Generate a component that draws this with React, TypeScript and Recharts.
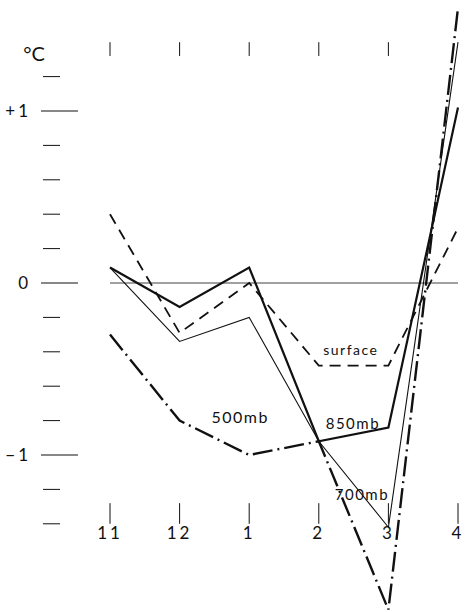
import React from "react";
import {
  LineChart,
  Line,
  XAxis,
  YAxis,
  ReferenceLine,
  ReferenceDot,
} from "recharts";

const months = ["11", "12", "1", "2", "3", "4"];
const surface = [0.4, -0.29, 0.0, -0.48, -0.48, 0.32];
const mb850 = [0.09, -0.14, 0.09, -0.92, -0.84, 1.02];
const mb700 = [0.09, -0.34, -0.2, -0.92, -1.42, 1.4];
const mb500 = [-0.3, -0.8, -1.0, -0.92, -1.9, 1.6];
const yTicks = [1.2, 1, 0.8, 0.6, 0.4, 0.2, 0, -0.2, -0.4, -0.6, -0.8, -1, -1.2, -1.4];
const yLabels: Record<string, string> = { "1": "+1", "0": "0", "-1": "−1" };
const topMarks = [0, 1, 2, 3, 4];

const data = months.map((m, i) => ({
  i,
  m,
  surface: surface[i],
  mb850: mb850[i],
  mb700: mb700[i],
  mb500: mb500[i],
}));

const FONT = "Lato, 'DejaVu Sans', sans-serif";
const INK = "#111";

function YTick(props: any) {
  const { y, payload } = props;
  const v = Math.round(payload.value * 10) / 10;
  const label = yLabels[String(v)];
  const major = label !== undefined;
  return (
    <g>
      <line
        x1={major ? 41 : 43}
        x2={major ? 78 : 60}
        y1={y}
        y2={y}
        stroke={INK}
        strokeWidth={1}
      />
      {major && (
        <text
          x={31}
          y={y}
          dy="0.35em"
          textAnchor="end"
          fontSize={17}
          fontFamily={FONT}
          fill={INK}
          letterSpacing={3}
        >
          {label}
        </text>
      )}
    </g>
  );
}

function textLabel(value: string, size = 15) {
  return {
    value,
    position: "center" as const,
    fill: INK,
    fontSize: size,
    fontFamily: FONT,
    letterSpacing: 1.5,
  };
}

export default function App() {
  return (
    <div style={{ position: "absolute", left: 0, top: 0, background: "#fff" }}>
      <LineChart
        width={465}
        height={612}
        data={data}
        margin={{ top: 4.36, right: 7, bottom: 2.2, left: 0 }}
      >
        <XAxis dataKey="i" type="number" domain={[0, 5]} hide />
        <YAxis
          type="number"
          domain={[-1.9, 1.62]}
          allowDataOverflow
          ticks={yTicks}
          interval={0}
          width={110}
          axisLine={false}
          tickLine={false}
          tick={<YTick />}
        />
        <ReferenceLine y={0} stroke={INK} strokeWidth={0.8} />

        {topMarks.map((i) => (
          <ReferenceLine
            key={"t" + i}
            segment={[
              { x: i, y: 1.4 },
              { x: i, y: 1.32 },
            ]}
            stroke={INK}
            strokeWidth={1}
          />
        ))}
        {months.map((m, i) => (
          <ReferenceLine
            key={"b" + i}
            segment={[
              { x: i, y: -1.28 },
              { x: i, y: -1.4 },
            ]}
            stroke={INK}
            strokeWidth={1}
          />
        ))}
        {months.map((m, i) => (
          <ReferenceDot
            key={"l" + i}
            x={i}
            y={-1.455}
            r={0}
            fill="none"
            stroke="none"
            label={{ ...textLabel(m, 17), letterSpacing: 3 }}
          />
        ))}

        <Line
          dataKey="surface"
          stroke={INK}
          strokeWidth={1.8}
          strokeDasharray="11 7"
          dot={false}
          isAnimationActive={false}
        />
        <Line
          dataKey="mb700"
          stroke={INK}
          strokeWidth={1.1}
          dot={false}
          isAnimationActive={false}
        />
        <Line
          dataKey="mb850"
          stroke={INK}
          strokeWidth={2.2}
          dot={false}
          isAnimationActive={false}
        />
        <Line
          dataKey="mb500"
          stroke={INK}
          strokeWidth={2.4}
          strokeDasharray="20 5 2 5"
          dot={false}
          isAnimationActive={false}
        />

        <ReferenceDot x={3.46} y={-0.39} r={0} fill="none" stroke="none" label={textLabel("surface", 14)} />
        <ReferenceDot x={3.49} y={-0.82} r={0} fill="none" stroke="none" label={textLabel("850mb", 15)} />
        <ReferenceDot x={3.62} y={-1.23} r={0} fill="none" stroke="none" label={textLabel("700mb", 15)} />
        <ReferenceDot x={1.87} y={-0.78} r={0} fill="none" stroke="none" label={textLabel("500mb", 16)} />
        <ReferenceDot x={-1.09} y={1.33} r={0} fill="none" stroke="none" label={{ ...textLabel("°C", 20), letterSpacing: 0 }} ifOverflow="visible" />
      </LineChart>
    </div>
  );
}
